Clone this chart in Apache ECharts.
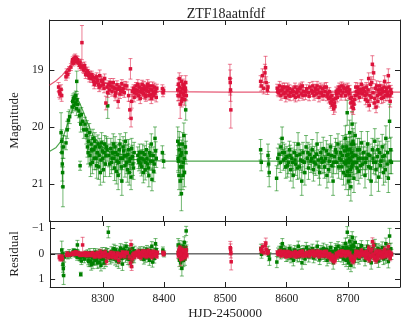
<!DOCTYPE html>
<html>
<head>
<meta charset="utf-8">
<script src="https://cdn.jsdelivr.net/npm/echarts@6/dist/echarts.min.js"></script>
<style>
  html, body { margin: 0; padding: 0; background: #fff; }
  #main { width: 407px; height: 326px; }
</style>
</head>
<body>
<div id="main"></div>
<script>
// x range and ticks
const xMin = 8214, xMax = 8785
const xTicks = [8300, 8400, 8500, 8600, 8700]
const magTicks = [19, 20, 21]
const resTicks = [-1, 0, 1]

// model light curves
const modelT = [8214, 8225, 8235, 8245, 8252, 8258, 8262, 8268, 8275, 8285, 8300, 8320, 8350, 8400, 8500, 8785]
const modelR = [19.27, 19.19, 19.09, 18.96, 18.88, 18.85, 18.86, 18.92, 19.0, 19.1, 19.2, 19.3, 19.35, 19.38, 19.39, 19.39]
const modelG = [20.43, 20.36, 20.22, 19.9, 19.68, 19.55, 19.55, 19.7, 19.9, 20.15, 20.35, 20.5, 20.57, 20.6, 20.6, 20.6]

// r band
const redT = [8229, 8230, 8231, 8233, 8234,
  8241, 8242, 8244, 8246,
  8249, 8251, 8252, 8253, 8254, 8255, 8256, 8257, 8258, 8259, 8260, 8262, 8263, 8264, 8265, 8267,
  8268, 8270, 8272, 8274, 8276, 8278, 8280, 8282, 8284, 8286, 8288, 8290, 8292, 8294, 8296, 8298, 8300, 8302, 8304, 8306,
  8308, 8310, 8312, 8314, 8316, 8318, 8320, 8322, 8324, 8326, 8328, 8330, 8332, 8334, 8336,
  8340, 8343, 8345, 8346, 8347, 8348, 8349,
  8351, 8353, 8355, 8357, 8359, 8361, 8363, 8365, 8367, 8369, 8371, 8373, 8375, 8377, 8379, 8381, 8383, 8385, 8387, 8389,
  8398, 8399, 8400,
  8423, 8424, 8425, 8426, 8427, 8428, 8429, 8430, 8431, 8432, 8433, 8434, 8435, 8436, 8437,
  8508, 8508.5, 8509, 8509.5,
  8558, 8559, 8561, 8563, 8565, 8566, 8567, 8569, 8570,
  8585, 8587, 8589, 8591, 8593, 8595, 8597, 8599, 8601, 8603, 8605, 8607,
  8610, 8612, 8614, 8616, 8618, 8620, 8622, 8624, 8626, 8628, 8631, 8633, 8636, 8638,
  8641, 8643, 8645, 8647, 8649, 8651, 8653, 8655, 8657, 8659, 8661, 8663, 8665, 8667, 8669,
  8671, 8673, 8675, 8677, 8678, 8680, 8682, 8684, 8686,
  8688, 8690, 8692, 8694, 8696, 8698, 8700,
  8702, 8704, 8705, 8707, 8708, 8710, 8712, 8714,
  8716, 8718, 8720, 8722, 8724, 8726, 8728,
  8730, 8732, 8734, 8735, 8737, 8738, 8740, 8741, 8742, 8743, 8745, 8746, 8748, 8750,
  8752, 8754, 8756, 8758, 8760, 8762, 8764, 8766, 8767, 8769, 8771,
  8269, 8271, 8273, 8277, 8279, 8283, 8287, 8291, 8295, 8299, 8303,
  8309, 8313, 8317, 8321, 8325, 8329, 8333, 8337,
  8352, 8354, 8356, 8358, 8360, 8362, 8364, 8366, 8368, 8370, 8372, 8374, 8376, 8378, 8380, 8382, 8384, 8386, 8388,
  8423.5, 8425.5, 8427.5, 8429.5, 8431.5, 8433.5, 8435.5,
  8586, 8590, 8594, 8598, 8602, 8606, 8611, 8615, 8619, 8623, 8627, 8632, 8637,
  8642, 8646, 8650, 8654, 8658, 8662, 8666, 8670,
  8672, 8674, 8676, 8679, 8681, 8683, 8685,
  8689, 8693, 8697, 8701, 8703, 8706, 8709, 8711, 8713, 8715,
  8717, 8719, 8721, 8723, 8727, 8729, 8731, 8733, 8736, 8739,
  8744, 8747, 8749, 8751, 8753, 8755, 8757, 8759, 8761, 8763,
  8765, 8768, 8770]
const redMag = [19.30, 19.38, 19.42, 19.34, 19.45,
  19.12, 19.05, 19.08, 19.00,
  18.95, 18.86, 18.82, 18.88, 18.80, 18.85, 18.78, 18.83, 18.80, 18.86, 18.82, 18.88, 18.92, 18.86, 18.95, 18.52,
  18.93, 19.00, 18.97, 19.05, 19.02, 19.10, 19.08, 19.15, 19.12, 19.20, 19.14, 19.22, 19.18, 19.25, 19.10, 19.28, 19.20, 19.26, 19.15, 19.58,
  19.30, 19.25, 19.35, 19.28, 19.38, 19.22, 19.32, 19.40, 19.26, 19.55, 19.30, 19.36, 19.24, 19.33, 19.40,
  19.28, 19.45, 19.70, 18.98, 19.85, 19.55, 19.38,
  19.32, 19.40, 19.28, 19.36, 19.45, 19.30, 19.38, 19.25, 19.42, 19.33, 19.47, 19.30, 19.38, 19.28, 19.44, 19.35, 19.40, 19.30, 19.37, 19.32,
  19.33, 19.40, 19.36,
  19.35, 19.25, 19.45, 19.30, 19.60, 19.40, 19.20, 19.50, 19.33, 19.42, 19.28, 19.52, 19.38, 19.22, 19.45,
  19.15, 19.22, 19.35, 19.70,
  19.20, 19.28, 19.10, 19.32, 19.05, 18.96, 19.22, 19.35, 19.30,
  19.32, 19.40, 19.28, 19.45, 19.35, 19.42, 19.30, 19.48, 19.36, 19.44, 19.33, 19.40,
  19.35, 19.45, 19.30, 19.40, 19.34, 19.46, 19.32, 19.42, 19.28, 19.38, 19.44, 19.33, 19.40, 19.30,
  19.36, 19.28, 19.45, 19.32, 19.42, 19.35, 19.48, 19.30, 19.40, 19.33, 19.45, 19.38, 19.30, 19.42, 19.50,
  19.48, 19.55, 19.62, 19.68, 19.58, 19.50, 19.42, 19.35, 19.30,
  19.36, 19.28, 19.40, 19.33, 19.45, 19.38, 19.30,
  19.42, 19.50, 19.58, 19.65, 19.55, 19.60, 19.45, 19.38,
  19.30, 19.40, 19.34, 19.25, 19.42, 19.32, 19.45,
  19.30, 19.55, 19.15, 19.62, 19.25, 19.48, 18.90, 19.40, 19.05, 19.58, 19.32, 19.65, 19.45, 19.35,
  19.28, 19.42, 19.33, 19.48, 19.20, 19.38, 19.45, 19.10, 19.30, 19.55, 19.40,
  18.98, 18.92, 19.08, 19.05, 19.14, 19.08, 19.25, 19.12, 19.30, 19.18, 19.32,
  19.40, 19.22, 19.30, 19.45, 19.34, 19.42, 19.38, 19.27,
  19.48, 19.35, 19.42, 19.25, 19.38, 19.50, 19.33, 19.40, 19.28, 19.44, 19.36, 19.25, 19.45, 19.34, 19.50, 19.28, 19.45, 19.40, 19.48,
  19.45, 19.15, 19.38, 19.55, 19.25, 19.45, 19.32,
  19.38, 19.36, 19.30, 19.40, 19.30, 19.46, 19.38, 19.48, 19.36, 19.30, 19.45, 19.38, 19.46,
  19.40, 19.38, 19.28, 19.40, 19.45, 19.30, 19.46, 19.38,
  19.58, 19.45, 19.52, 19.64, 19.38, 19.48, 19.40,
  19.45, 19.30, 19.32, 19.40, 19.35, 19.48, 19.68, 19.52, 19.30, 19.44,
  19.36, 19.48, 19.40, 19.35, 19.38, 19.52, 19.42, 19.35, 19.45, 19.22,
  19.50, 19.28, 19.55, 19.42, 19.35, 19.50, 19.38, 19.30, 19.45, 19.32,
  19.40, 19.45, 19.35]
const redErr = [0.08, 0.10, 0.09, 0.08, 0.10,
  0.06, 0.07, 0.06, 0.06,
  0.06, 0.05, 0.05, 0.05, 0.06, 0.05, 0.06, 0.05, 0.05, 0.05, 0.06, 0.06, 0.06, 0.05, 0.06, 0.30,
  0.06, 0.06, 0.06, 0.06, 0.07, 0.06, 0.06, 0.07, 0.06, 0.08, 0.06, 0.07, 0.06, 0.08, 0.10, 0.07, 0.06, 0.07, 0.08, 0.12,
  0.07, 0.06, 0.08, 0.06, 0.08, 0.07, 0.06, 0.09, 0.07, 0.12, 0.06, 0.08, 0.07, 0.06, 0.08,
  0.07, 0.10, 0.15, 0.18, 0.15, 0.12, 0.08,
  0.06, 0.07, 0.06, 0.07, 0.08, 0.06, 0.07, 0.07, 0.08, 0.06, 0.08, 0.07, 0.06, 0.07, 0.08, 0.06, 0.07, 0.07, 0.06, 0.07,
  0.07, 0.07, 0.06,
  0.08, 0.10, 0.09, 0.08, 0.25, 0.08, 0.10, 0.10, 0.08, 0.08, 0.09, 0.10, 0.08, 0.12, 0.09,
  0.25, 0.22, 0.20, 0.32,
  0.10, 0.09, 0.12, 0.10, 0.15, 0.20, 0.10, 0.08, 0.08,
  0.07, 0.07, 0.08, 0.08, 0.07, 0.08, 0.07, 0.08, 0.07, 0.08, 0.07, 0.07,
  0.07, 0.08, 0.07, 0.07, 0.07, 0.08, 0.07, 0.08, 0.07, 0.07, 0.08, 0.07, 0.07, 0.08,
  0.07, 0.08, 0.08, 0.07, 0.08, 0.07, 0.08, 0.07, 0.07, 0.07, 0.08, 0.07, 0.08, 0.08, 0.08,
  0.08, 0.09, 0.09, 0.10, 0.09, 0.08, 0.08, 0.07, 0.07,
  0.07, 0.07, 0.08, 0.07, 0.08, 0.07, 0.07,
  0.08, 0.08, 0.09, 0.10, 0.09, 0.09, 0.08, 0.07,
  0.07, 0.08, 0.07, 0.08, 0.08, 0.07, 0.08,
  0.08, 0.10, 0.10, 0.10, 0.09, 0.09, 0.15, 0.09, 0.12, 0.10, 0.08, 0.10, 0.09, 0.08,
  0.08, 0.08, 0.08, 0.09, 0.10, 0.08, 0.09, 0.12, 0.08, 0.10, 0.08,
  0.06, 0.06, 0.07, 0.06, 0.07, 0.06, 0.08, 0.07, 0.08, 0.07, 0.08,
  0.08, 0.07, 0.07, 0.09, 0.07, 0.08, 0.07, 0.07,
  0.08, 0.07, 0.07, 0.08, 0.07, 0.09, 0.07, 0.07, 0.08, 0.08, 0.07, 0.08, 0.08, 0.07, 0.09, 0.07, 0.08, 0.07, 0.08,
  0.09, 0.10, 0.08, 0.10, 0.09, 0.09, 0.08,
  0.07, 0.07, 0.07, 0.07, 0.07, 0.08, 0.07, 0.08, 0.07, 0.07, 0.08, 0.07, 0.08,
  0.07, 0.07, 0.08, 0.07, 0.08, 0.07, 0.08, 0.07,
  0.09, 0.08, 0.09, 0.10, 0.08, 0.08, 0.07,
  0.08, 0.07, 0.07, 0.07, 0.08, 0.09, 0.10, 0.09, 0.08, 0.08,
  0.07, 0.08, 0.08, 0.08, 0.08, 0.09, 0.09, 0.09, 0.09, 0.10,
  0.09, 0.09, 0.10, 0.08, 0.08, 0.09, 0.08, 0.09, 0.09, 0.08,
  0.09, 0.09, 0.08]
const redRes = [0.12, 0.15, 0.20, 0.10, 0.18,
  0.05, -0.02, 0.05, 0.02,
  0.02, -0.03, -0.05, 0.02, -0.05, 0.00, -0.07, -0.02, -0.05, 0.01, -0.04, 0.02, 0.05, -0.02, 0.05, -0.35,
  0.00, 0.03, -0.02, 0.03, -0.02, 0.05, 0.00, 0.05, 0.00, 0.08, 0.00, 0.08, 0.03, 0.08, -0.08, 0.08, 0.00, 0.05, -0.07, 0.30,
  0.06, 0.02, 0.10, 0.04, 0.12, -0.03, 0.05, 0.12, -0.02, 0.26, 0.01, 0.06, -0.06, 0.02, 0.09,
  -0.04, 0.12, 0.36, -0.36, 0.50, 0.20, 0.04,
  -0.02, 0.05, -0.06, 0.01, 0.10, -0.05, 0.02, -0.10, 0.06, -0.03, 0.10, -0.06, 0.01, -0.08, 0.07, -0.02, 0.03, -0.07, 0.00, -0.05,
  -0.05, 0.02, -0.02,
  -0.03, -0.13, 0.07, -0.08, 0.22, 0.02, -0.18, 0.12, -0.05, 0.04, -0.10, 0.14, 0.00, -0.16, 0.07,
  -0.24, -0.17, -0.04, 0.31,
  -0.18, -0.10, -0.28, -0.06, -0.33, -0.42, -0.16, -0.03, -0.08,
  -0.06, 0.02, -0.10, 0.07, -0.03, 0.04, -0.08, 0.10, -0.02, 0.06, -0.05, 0.02,
  -0.03, 0.07, -0.08, 0.02, -0.04, 0.08, -0.06, 0.04, -0.10, 0.00, 0.06, -0.05, 0.02, -0.08,
  -0.02, -0.10, 0.07, -0.06, 0.04, -0.03, 0.10, -0.08, 0.02, -0.05, 0.07, 0.00, -0.08, 0.04, 0.12,
  0.10, 0.17, 0.24, 0.30, 0.20, 0.12, 0.04, -0.03, -0.08,
  -0.02, -0.10, 0.02, -0.05, 0.07, 0.00, -0.08,
  0.04, 0.12, 0.20, 0.27, 0.17, 0.22, 0.07, 0.00,
  -0.08, 0.02, -0.04, -0.13, 0.04, -0.06, 0.07,
  -0.08, 0.17, -0.23, 0.24, -0.13, 0.10, -0.48, 0.02, -0.33, 0.20, -0.06, 0.27, 0.07, -0.03,
  -0.10, 0.04, -0.05, 0.10, -0.18, 0.00, 0.07, -0.28, -0.08, 0.17, 0.02,
  0.04, -0.04, 0.06, 0.00, 0.05, -0.04, 0.10, -0.04, 0.10, -0.04, 0.08,
  0.13, -0.05, 0.02, 0.15, 0.04, 0.10, 0.06, -0.05,
  0.12, -0.01, 0.05, -0.10, 0.02, 0.14, -0.04, 0.03, -0.09, 0.07, -0.01, -0.12, 0.08, -0.03, 0.12, -0.09, 0.07, 0.03, 0.10,
  0.07, -0.23, 0.00, 0.17, -0.13, 0.07, -0.06,
  0.00, -0.02, -0.08, 0.02, -0.08, 0.08, 0.00, 0.10, -0.02, -0.08, 0.07, 0.00, 0.08,
  0.02, 0.00, -0.10, 0.02, 0.07, -0.08, 0.08, 0.00,
  0.20, 0.07, 0.14, 0.26, 0.00, 0.10, 0.02,
  0.07, -0.08, -0.06, 0.02, -0.03, 0.10, 0.30, 0.14, -0.08, 0.06,
  -0.02, 0.10, 0.02, -0.03, 0.00, 0.14, 0.04, -0.03, 0.07, -0.16,
  0.12, -0.10, 0.17, 0.04, -0.03, 0.12, 0.00, -0.08, 0.07, -0.06,
  0.02, 0.07, -0.03]

// g band
const greenT = [8233, 8234, 8234.5, 8235, 8235.5, 8236, 8237,
  8241, 8243, 8245, 8247,
  8251, 8252, 8253, 8254, 8255, 8256, 8257, 8258, 8258.5, 8259, 8260, 8262,
  8263, 8264, 8265, 8266, 8268, 8270, 8272,
  8274, 8276, 8278, 8280, 8282, 8284, 8286, 8288, 8290, 8292, 8294, 8296, 8298, 8300, 8302, 8304, 8306, 8308, 8309, 8312,
  8314, 8316, 8318, 8320, 8322, 8324, 8326, 8328, 8330, 8332, 8334, 8336, 8338, 8340, 8342, 8344, 8346, 8348, 8350, 8352,
  8358, 8360, 8362, 8364, 8366, 8368, 8370, 8372, 8374, 8376, 8378, 8380, 8382, 8384, 8386, 8388,
  8398, 8400,
  8423, 8424, 8425, 8426, 8427, 8428, 8429, 8430, 8431, 8432, 8433, 8434, 8436, 8436.5,
  8558, 8559, 8570, 8571, 8572,
  8584, 8588, 8591, 8593, 8595, 8597, 8599,
  8601, 8603, 8605, 8607, 8609, 8611, 8613, 8615, 8617, 8619, 8621, 8623, 8625, 8627, 8629, 8632, 8634, 8636, 8638,
  8640, 8642, 8644, 8646, 8648, 8650, 8652, 8654, 8656, 8658, 8660, 8662, 8664, 8666, 8668, 8670, 8672, 8674, 8676, 8678, 8680, 8682, 8684, 8686,
  8688, 8690, 8692, 8694, 8696, 8697, 8698, 8699, 8700, 8701, 8702, 8703, 8704, 8705, 8706, 8707, 8708, 8709, 8710, 8711, 8712, 8714, 8716, 8718, 8720, 8722,
  8724, 8726, 8728, 8730, 8732, 8734, 8736, 8738, 8740, 8742, 8744, 8746, 8748, 8750, 8752, 8754, 8756, 8758, 8760, 8762, 8764, 8766, 8768, 8770, 8771,
  8275, 8277, 8279, 8281, 8283, 8285, 8287, 8289, 8291, 8293, 8295, 8297, 8299, 8301, 8303, 8305, 8307, 8311,
  8315, 8317, 8319, 8321, 8323, 8325, 8327, 8329, 8331, 8333, 8335, 8337, 8339, 8341, 8343, 8345, 8347, 8349, 8351,
  8359, 8361, 8363, 8365, 8367, 8369, 8371, 8373, 8375, 8377, 8379, 8381, 8383, 8385, 8387,
  8423.5, 8425.5, 8427.5, 8429.5, 8431.5, 8433.5, 8435.5,
  8586, 8590, 8594, 8598, 8602, 8606, 8610, 8614, 8618, 8622, 8626, 8630, 8635,
  8641, 8645, 8649, 8653, 8657, 8661, 8665, 8669, 8673, 8677,
  8681, 8685, 8689, 8691, 8693, 8695, 8696.5, 8697.5, 8698.5, 8699.5,
  8700.5, 8701.5, 8702.5, 8703.5, 8704.5, 8705.5, 8706.5, 8707.5, 8708.5, 8709.5,
  8713, 8715, 8717, 8719, 8721, 8725, 8729, 8733, 8737, 8741,
  8745, 8749, 8753, 8757, 8761, 8765, 8769]
const greenMag = [20.10, 20.25, 20.45, 20.65, 20.80, 21.05, 20.35,
  20.28, 20.05, 19.88, 19.82,
  19.65, 19.55, 19.50, 19.62, 19.48, 19.58, 19.45, 19.68, 19.20, 19.52, 19.60, 19.72,
  19.80, 20.68, 19.95, 19.78, 19.90, 20.05, 19.95,
  20.15, 20.35, 20.25, 20.50, 20.30, 20.62, 20.40, 20.25, 20.55, 20.45, 20.70, 20.35, 20.58, 20.42, 20.75, 20.30, 20.50, 20.40, 19.63, 20.65,
  20.38, 20.55, 20.30, 20.72, 20.45, 20.60, 20.85, 20.40, 20.55, 20.95, 20.35, 20.50, 20.25, 20.62, 20.48, 20.80, 20.55, 20.38, 20.65, 20.45,
  20.50, 20.62, 20.55, 20.70, 20.45, 20.58, 20.75, 20.40, 20.65, 20.85, 20.50, 20.30, 20.60, 20.78, 20.20, 20.55,
  20.45, 20.60,
  20.25, 20.60, 20.85, 20.40, 20.95, 20.50, 21.17, 20.70, 20.30, 20.62, 20.15, 20.80, 19.70, 20.45,
  20.40, 20.62, 20.50, 20.65, 20.80,
  20.90, 20.48, 20.35, 20.20, 20.58, 20.45, 20.70,
  20.52, 20.62, 20.40, 20.75, 20.55, 20.85, 20.45, 20.65, 20.50, 20.30, 20.70, 20.58, 20.95, 20.45, 20.62, 20.35, 20.55, 20.72, 20.48,
  20.60, 20.40, 20.75, 20.52, 20.65, 20.30, 20.58, 20.80, 20.45, 20.62, 20.38, 20.70, 20.55, 20.85, 20.48, 20.60, 20.35, 20.68, 20.95, 20.52, 20.40, 20.62, 20.30, 20.55,
  20.45, 20.70, 20.35, 20.62, 20.20, 20.85, 20.50, 19.75, 20.40, 20.95, 20.55, 20.10, 20.75, 21.05, 20.45, 19.95, 20.65, 20.30, 20.90, 20.50, 20.15, 20.62, 20.40, 20.78, 20.55, 20.28,
  20.65, 20.45, 20.85, 20.55, 20.30, 20.70, 20.50, 20.95, 20.40, 20.62, 20.25, 20.75, 20.52, 20.88, 20.45, 20.60, 20.35, 20.80, 20.50, 20.20, 20.65, 20.90, 19.90, 20.40, 20.62,
  20.05, 20.45, 20.10, 20.65, 20.40, 20.20, 20.55, 20.35, 20.68, 20.30, 20.50, 20.80, 20.28, 20.55, 20.45, 20.65, 20.35, 20.50,
  20.62, 20.45, 20.55, 20.35, 20.78, 20.48, 20.62, 20.30, 20.70, 20.55, 20.42, 20.68, 20.50, 20.75, 20.40, 20.60, 20.88, 20.52, 20.72,
  20.58, 20.45, 20.65, 20.55, 20.80, 20.48, 20.62, 20.55, 20.72, 20.45, 20.60, 20.92, 20.50, 20.65, 20.42,
  20.55, 20.30, 20.70, 20.45, 20.85, 20.55, 20.35,
  20.55, 20.62, 20.45, 20.55, 20.68, 20.50, 20.62, 20.58, 20.72, 20.48, 20.60, 20.80, 20.45,
  20.55, 20.62, 20.48, 20.70, 20.55, 20.60, 20.42, 20.75, 20.50, 20.62,
  20.45, 20.70, 20.58, 20.50, 20.80, 20.42, 20.65, 20.35, 20.60, 20.78,
  20.48, 20.62, 20.85, 20.40, 20.58, 20.30, 20.70, 20.52, 20.25, 20.62,
  20.50, 20.72, 20.55, 20.40, 20.68, 20.55, 20.62, 20.48, 20.72, 20.55,
  20.62, 20.40, 20.68, 20.52, 20.75, 20.45, 20.60]
const greenErr = [0.35, 0.20, 0.25, 0.30, 0.25, 0.35, 0.20,
  0.12, 0.15, 0.15, 0.12,
  0.10, 0.10, 0.08, 0.10, 0.08, 0.10, 0.08, 0.12, 0.18, 0.10, 0.10, 0.12,
  0.12, 0.08, 0.14, 0.12, 0.14, 0.15, 0.12,
  0.15, 0.18, 0.15, 0.20, 0.15, 0.20, 0.18, 0.15, 0.20, 0.18, 0.22, 0.15, 0.20, 0.18, 0.22, 0.15, 0.18, 0.20, 0.22, 0.22,
  0.18, 0.20, 0.18, 0.22, 0.18, 0.20, 0.25, 0.18, 0.20, 0.25, 0.18, 0.20, 0.15, 0.20, 0.18, 0.22, 0.20, 0.18, 0.20, 0.18,
  0.15, 0.15, 0.14, 0.16, 0.15, 0.15, 0.18, 0.15, 0.16, 0.20, 0.15, 0.18, 0.15, 0.18, 0.20, 0.16,
  0.12, 0.12,
  0.25, 0.20, 0.25, 0.22, 0.25, 0.20, 0.30, 0.22, 0.20, 0.22, 0.22, 0.25, 0.18, 0.20,
  0.18, 0.15, 0.20, 0.22, 0.25,
  0.22, 0.18, 0.15, 0.20, 0.18, 0.15, 0.20,
  0.18, 0.20, 0.15, 0.20, 0.18, 0.22, 0.18, 0.20, 0.18, 0.20, 0.20, 0.18, 0.25, 0.18, 0.20, 0.20, 0.18, 0.20, 0.18,
  0.20, 0.18, 0.20, 0.18, 0.20, 0.20, 0.18, 0.22, 0.18, 0.20, 0.20, 0.20, 0.18, 0.22, 0.18, 0.20, 0.20, 0.20, 0.25, 0.18, 0.20, 0.20, 0.18, 0.20,
  0.20, 0.22, 0.20, 0.22, 0.22, 0.25, 0.20, 0.22, 0.22, 0.25, 0.20, 0.22, 0.22, 0.25, 0.20, 0.22, 0.22, 0.20, 0.25, 0.20, 0.22, 0.20, 0.20, 0.22, 0.20, 0.20,
  0.20, 0.20, 0.22, 0.20, 0.22, 0.22, 0.20, 0.25, 0.20, 0.20, 0.22, 0.22, 0.20, 0.25, 0.20, 0.20, 0.22, 0.22, 0.20, 0.22, 0.22, 0.25, 0.30, 0.22, 0.20,
  0.16, 0.20, 0.16, 0.22, 0.18, 0.16, 0.20, 0.18, 0.22, 0.16, 0.20, 0.22, 0.18, 0.20, 0.18, 0.22, 0.18, 0.20,
  0.20, 0.18, 0.20, 0.18, 0.22, 0.18, 0.20, 0.18, 0.22, 0.20, 0.18, 0.20, 0.18, 0.22, 0.18, 0.20, 0.22, 0.20, 0.20,
  0.15, 0.15, 0.16, 0.15, 0.18, 0.15, 0.16, 0.15, 0.16, 0.15, 0.16, 0.20, 0.15, 0.16, 0.16,
  0.22, 0.22, 0.22, 0.22, 0.25, 0.22, 0.22,
  0.18, 0.18, 0.18, 0.18, 0.20, 0.18, 0.20, 0.18, 0.20, 0.18, 0.20, 0.22, 0.18,
  0.20, 0.20, 0.18, 0.20, 0.18, 0.20, 0.18, 0.22, 0.20, 0.20,
  0.18, 0.20, 0.20, 0.20, 0.22, 0.20, 0.22, 0.22, 0.22, 0.22,
  0.22, 0.22, 0.25, 0.22, 0.22, 0.22, 0.22, 0.22, 0.22, 0.22,
  0.20, 0.22, 0.20, 0.20, 0.22, 0.20, 0.20, 0.20, 0.22, 0.20,
  0.22, 0.20, 0.22, 0.20, 0.22, 0.20, 0.22]
const greenRes = [-0.15, 0.00, 0.20, 0.42, 0.58, 0.85, 0.12,
  0.05, 0.05, -0.02, 0.05,
  -0.02, -0.10, -0.12, 0.02, -0.08, 0.03, -0.10, 0.13, -0.35, -0.03, 0.05, 0.15,
  0.15, 0.80, 0.28, 0.05, 0.12, 0.20, 0.00,
  0.10, 0.25, 0.10, 0.30, 0.08, 0.38, 0.12, -0.05, 0.22, 0.10, 0.33, -0.02, 0.20, 0.05, 0.36, -0.10, 0.10, 0.00, -0.85, 0.18,
  -0.10, 0.05, -0.20, 0.22, -0.05, 0.08, 0.32, -0.12, 0.02, 0.40, -0.18, -0.05, -0.30, 0.05, -0.08, 0.22, -0.02, -0.20, 0.07, -0.12,
  -0.08, 0.03, -0.03, 0.10, -0.13, -0.02, 0.15, -0.18, 0.05, 0.25, -0.10, -0.30, 0.00, 0.18, -0.40, -0.05,
  -0.15, 0.00,
  -0.35, 0.00, 0.25, -0.20, 0.35, -0.10, 0.57, 0.10, -0.30, 0.02, -0.45, 0.20, -0.90, -0.15,
  -0.20, 0.02, -0.10, 0.05, 0.20,
  0.32, -0.12, -0.25, -0.40, -0.02, -0.15, 0.10,
  -0.08, 0.02, -0.20, 0.15, -0.05, 0.25, -0.15, 0.05, -0.10, -0.30, 0.10, -0.02, 0.35, -0.15, 0.02, -0.25, -0.05, 0.12, -0.12,
  0.00, -0.20, 0.15, -0.08, 0.05, -0.30, -0.02, 0.20, -0.15, 0.02, -0.22, 0.10, -0.05, 0.25, -0.12, 0.00, -0.25, 0.08, 0.35, -0.08, -0.20, 0.02, -0.30, -0.05,
  -0.15, 0.10, -0.25, 0.02, -0.40, 0.25, -0.10, -0.85, -0.20, 0.35, -0.05, -0.50, 0.15, 0.45, -0.15, -0.65, 0.05, -0.30, 0.30, -0.10, -0.45, 0.02, -0.20, 0.18, -0.05, -0.32,
  0.05, -0.15, 0.25, -0.05, -0.30, 0.10, -0.10, 0.35, -0.20, 0.02, -0.35, 0.15, -0.08, 0.28, -0.15, 0.00, -0.25, 0.20, -0.10, -0.40, 0.05, 0.30, -0.70, -0.20, 0.02,
  0.00, 0.30, -0.05, 0.42, 0.15, -0.05, 0.25, 0.05, 0.35, -0.03, 0.15, 0.45, -0.07, 0.20, 0.08, 0.28, -0.03, 0.10,
  0.15, -0.03, 0.05, -0.15, 0.28, -0.02, 0.10, -0.22, 0.18, 0.02, -0.12, 0.13, -0.05, 0.20, -0.15, 0.04, 0.30, -0.05, 0.15,
  0.00, -0.13, 0.07, -0.03, 0.22, -0.10, 0.04, -0.03, 0.13, -0.13, 0.02, 0.32, -0.08, 0.06, -0.17,
  -0.05, -0.30, 0.10, -0.15, 0.25, -0.05, -0.25,
  -0.05, 0.02, -0.15, -0.05, 0.08, -0.10, 0.02, -0.02, 0.12, -0.12, 0.00, 0.20, -0.15,
  -0.05, 0.02, -0.12, 0.10, -0.05, 0.00, -0.18, 0.15, -0.10, 0.02,
  -0.15, 0.10, -0.02, -0.10, 0.20, -0.18, 0.05, -0.25, 0.00, 0.18,
  -0.12, 0.02, 0.25, -0.20, -0.02, -0.30, 0.10, -0.08, -0.35, 0.02,
  -0.10, 0.12, -0.05, -0.20, 0.08, -0.05, 0.02, -0.12, 0.12, -0.05,
  0.02, -0.20, 0.08, -0.08, 0.15, -0.15, 0.00]

const RED = '#dc143c', RED_BAR = 'rgba(220,20,60,0.55)'
const GREEN = '#008000', GREEN_BAR = 'rgba(0,128,0,0.55)'
const FONT = 'Liberation Serif'
const INK = '#222'

function errRender(barColor, ptColor) {
  return function (params, api) {
    const x = api.value(0), y = api.value(1), e = api.value(2)
    const p = api.coord([x, y])
    const lo = api.coord([x, y - e])
    const hi = api.coord([x, y + e])
    const c = 2
    const bar = { stroke: barColor, lineWidth: 1 }
    return {
      type: 'group',
      children: [
        { type: 'line', shape: { x1: p[0], y1: lo[1], x2: p[0], y2: hi[1] }, style: bar },
        { type: 'line', shape: { x1: p[0] - c, y1: lo[1], x2: p[0] + c, y2: lo[1] }, style: bar },
        { type: 'line', shape: { x1: p[0] - c, y1: hi[1], x2: p[0] + c, y2: hi[1] }, style: bar },
        { type: 'rect', shape: { x: p[0] - 1.75, y: p[1] - 1.75, width: 3.5, height: 3.5 }, style: { fill: ptColor } },
      ],
    }
  }
}

function pack(t, v, e) {
  return t.map((x, i) => [x, v[i], e[i]])
}

function xAxisDef(gridIndex, position, showLabel, name) {
  return {
    type: 'value', gridIndex, position, min: xMin, max: xMax,
    splitLine: { show: false },
    axisLine: { onZero: false, lineStyle: { color: INK, width: 1 } },
    axisTick: { inside: true, length: 5, customValues: xTicks, lineStyle: { color: INK } },
    axisLabel: {
      show: showLabel, customValues: xTicks, margin: 6, color: INK, fontFamily: FONT, fontSize: 11.5,
      formatter: v => String(v),
    },
    name: name || '', nameLocation: 'middle', nameGap: 20,
    nameTextStyle: { color: INK, fontFamily: FONT, fontSize: 13 },
  }
}

function yAxisDef(gridIndex, position, min, max, ticks, showLabel, name, gap) {
  return {
    type: 'value', gridIndex, position, min, max, inverse: true,
    splitLine: { show: false },
    axisLine: { onZero: false, lineStyle: { color: INK, width: 1 } },
    axisTick: { inside: true, length: 5, customValues: ticks, lineStyle: { color: INK } },
    axisLabel: {
      show: showLabel, customValues: ticks, margin: 6, color: INK, fontFamily: FONT, fontSize: 11.5,
      formatter: v => (v < 0 ? '\u2212' + Math.abs(v) : String(v)),
    },
    name: name || '', nameLocation: 'middle', nameGap: gap || 0, nameRotate: 90,
    nameTextStyle: { color: INK, fontFamily: FONT, fontSize: 13 },
  }
}

const chart = echarts.init(document.getElementById('main'), null, { renderer: 'canvas' })
const option = {
  animation: false,
  backgroundColor: '#fff',
  title: {
    text: 'ZTF18aatnfdf', left: 221, top: 2, textAlign: 'center',
    textStyle: { color: INK, fontFamily: FONT, fontSize: 14, fontWeight: 'normal' },
  },
  grid: [
    { left: 43, right: 7, top: 20, height: 201 },
    { left: 43, right: 7, top: 221, height: 66 },
  ],
  xAxis: [
    xAxisDef(0, 'bottom', false),
    xAxisDef(0, 'top', false),
    xAxisDef(1, 'bottom', true, 'HJD-2450000'),
    xAxisDef(1, 'top', false),
  ],
  yAxis: [
    yAxisDef(0, 'left', 18.123, 21.65, magTicks, true, 'Magnitude', 20),
    yAxisDef(0, 'right', 18.123, 21.65, magTicks, false),
    yAxisDef(1, 'left', -1.29, 1.30, resTicks, true, 'Residual', 22),
    yAxisDef(1, 'right', -1.29, 1.30, resTicks, false),
  ],
  series: [
    {
      type: 'line', xAxisIndex: 0, yAxisIndex: 0, showSymbol: false, z: 1,
      lineStyle: { color: 'rgba(220,20,60,0.7)', width: 1.2 },
      data: modelT.map((t, i) => [t, modelR[i]]),
    },
    {
      type: 'line', xAxisIndex: 0, yAxisIndex: 0, showSymbol: false, z: 1,
      lineStyle: { color: 'rgba(0,128,0,0.7)', width: 1.2 },
      data: modelT.map((t, i) => [t, modelG[i]]),
    },
    {
      type: 'custom', xAxisIndex: 0, yAxisIndex: 0, z: 2, clip: true,
      renderItem: errRender(GREEN_BAR, GREEN), encode: { x: 0, y: 1 },
      data: pack(greenT, greenMag, greenErr),
    },
    {
      type: 'custom', xAxisIndex: 0, yAxisIndex: 0, z: 3, clip: true,
      renderItem: errRender(RED_BAR, RED), encode: { x: 0, y: 1 },
      data: pack(redT, redMag, redErr),
    },
    {
      type: 'line', xAxisIndex: 2, yAxisIndex: 2, showSymbol: false, z: 1,
      lineStyle: { color: INK, width: 1 },
      data: [[xMin, 0], [xMax, 0]],
    },
    {
      type: 'custom', xAxisIndex: 2, yAxisIndex: 2, z: 2, clip: true,
      renderItem: errRender(GREEN_BAR, GREEN), encode: { x: 0, y: 1 },
      data: pack(greenT, greenRes, greenErr),
    },
    {
      type: 'custom', xAxisIndex: 2, yAxisIndex: 2, z: 3, clip: true,
      renderItem: errRender(RED_BAR, RED), encode: { x: 0, y: 1 },
      data: pack(redT, redRes, redErr),
    },
  ],
}
chart.setOption(option)
</script>
</body>
</html>
